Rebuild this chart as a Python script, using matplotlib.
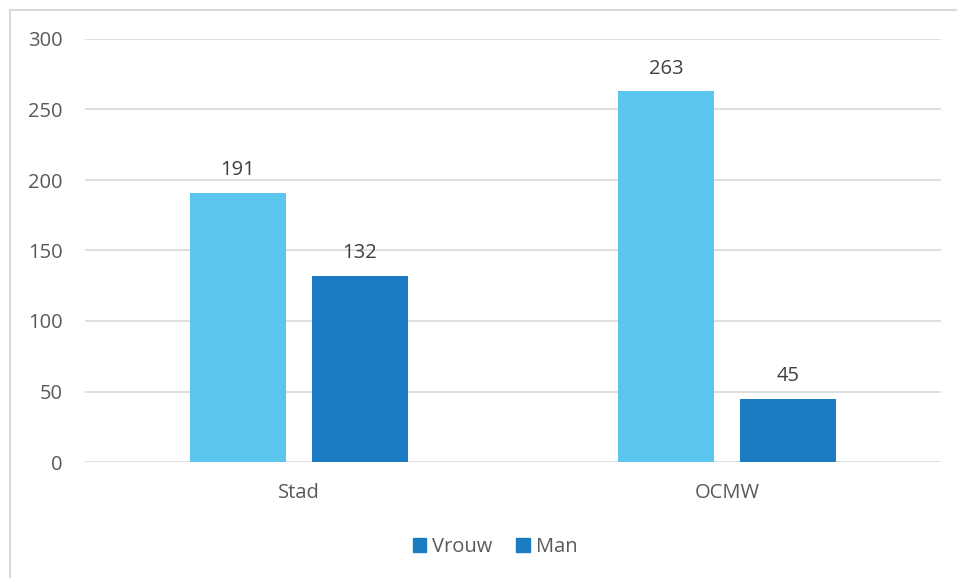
import matplotlib.pyplot as plt
from matplotlib.lines import Line2D
from matplotlib.patches import Patch

categories = ["Stad", "OCMW"]
vrouw = [191, 263]
man = [132, 45]
yticks = [0, 50, 100, 150, 200, 250, 300]

light = "#5BC5ED"
dark = "#1B7BC2"
grey = "#595959"

plt.rcParams['font.family'] = ['Open Sans', 'DejaVu Sans']

fig = plt.figure(figsize=(9.57, 5.78), dpi=100)
ax = fig.add_axes([85 / 957, 116 / 578, 856 / 957, 423 / 578])

xs = list(range(len(categories)))
w = 0.224
off = 0.1425
b1 = ax.bar([x - off for x in xs], vrouw, w, color=light, zorder=3)
b2 = ax.bar([x + off for x in xs], man, w, color=dark, zorder=3)
for bars, vals in [(b1, vrouw), (b2, man)]:
    for r, v in zip(bars, vals):
        ax.annotate(str(v), (r.get_x() + r.get_width() / 2, v), xytext=(0, 9),
                    textcoords="offset points", ha="center", va="bottom",
                    fontsize=14.5, color="#404040")

ax.set_xlim(-0.5, 1.5)
ax.set_ylim(0, 300)
ax.set_yticks(yticks)
ax.set_xticks(xs)
ax.set_xticklabels(categories)
ax.grid(axis="y", color="#D9D9D9", linewidth=1.2, zorder=0)
for s in ax.spines.values():
    s.set_visible(False)
ax.tick_params(length=0, labelsize=14.5, colors=grey)
ax.tick_params(axis="y", pad=16)
ax.tick_params(axis="x", pad=15)

# Excel shows both legend keys in the darker blue
handles = [Patch(color=dark), Patch(color=dark)]
fig.legend(handles, ["Vrouw", "Man"], loc="center", bbox_to_anchor=(495 / 957, 1 - 547 / 578),
           ncol=2, frameon=False, fontsize=14.5, labelcolor=grey,
           handlelength=0.65, handleheight=0.65, handletextpad=0.3, columnspacing=1.2)

# chart area border
fig.add_artist(Line2D([10 / 957, 10 / 957], [0, 1 - 10 / 578], color="#D9D9D9", linewidth=1.5))
fig.add_artist(Line2D([10 / 957, 1], [1 - 10 / 578, 1 - 10 / 578], color="#D9D9D9", linewidth=1.5))

fig.savefig("out.png", dpi=100, facecolor="white")
